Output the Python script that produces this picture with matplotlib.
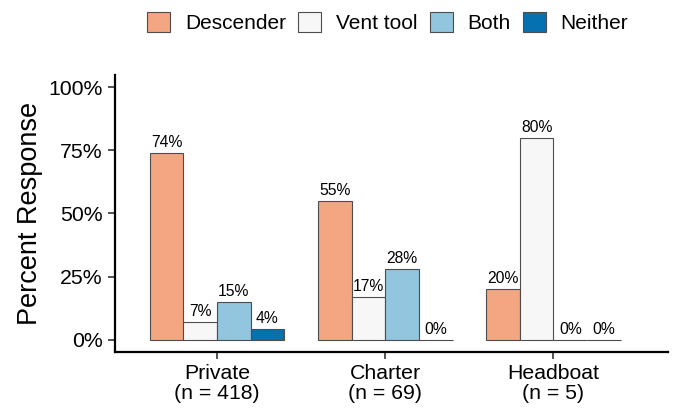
import matplotlib.pyplot as plt
import numpy as np

plt.rcParams['font.family'] = ['Liberation Sans', 'DejaVu Sans']

groups = ['Private\n(n = 418)', 'Charter\n(n = 69)', 'Headboat\n(n = 5)']
series = ['Descender', 'Vent tool', 'Both', 'Neither']
colors = ['#F4A582', '#F7F7F7', '#92C5DE', '#0571B0']
values = {
    'Descender': [74, 55, 20],
    'Vent tool': [7, 17, 80],
    'Both': [15, 28, 0],
    'Neither': [4, 0, 0],
}

fig = plt.figure(figsize=(6.78, 4.09), dpi=100)
ax = fig.add_axes([0.170, 0.139, 0.815, 0.678])

x = np.arange(1, len(groups) + 1)
w = 0.8 / len(series)
handles = []
for i, s in enumerate(series):
    pos = x - 0.4 + w * (i + 0.5)
    b = ax.bar(pos, values[s], width=w, color=colors[i], edgecolor='#4d4d4d',
               linewidth=0.8, label=s)
    handles.append(b)
    for px, v in zip(pos, values[s]):
        ax.text(px, v + 1.2, '%d%%' % v, ha='center', va='bottom', fontsize=11.3)

ax.set_xlim(0.395, 3.68)
ax.set_ylim(-5, 105)
ax.set_yticks([0, 25, 50, 75, 100])
ax.set_yticklabels(['0%', '25%', '50%', '75%', '100%'])
ax.set_xticks(x)
ax.set_xticklabels(groups, linespacing=1.05)
ax.tick_params(axis='both', labelsize=15.3, width=1.2, length=5, color='#333333')
ax.tick_params(axis='y', pad=4)
ax.set_ylabel('Percent Response', fontsize=19.5)
for sp in ['top', 'right']:
    ax.spines[sp].set_visible(False)
for sp in ['left', 'bottom']:
    ax.spines[sp].set_linewidth(1.6)

fig.legend(handles=handles, labels=series, loc='center',
           bbox_to_anchor=(0.572, 0.944), ncol=4, frameon=False, fontsize=15,
           handlelength=1.1, handleheight=1.1, handletextpad=0.7,
           columnspacing=0.6)

fig.savefig('out.png', dpi=100)
